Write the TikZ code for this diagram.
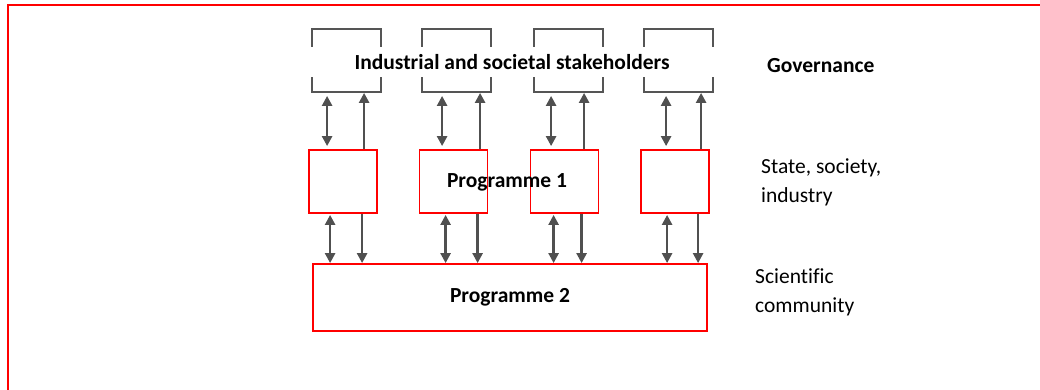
\documentclass[tikz,border=0pt]{standalone}
\usepackage{fontspec}
\setmainfont{Carlito}[Ligatures=NoCommon]
\usetikzlibrary{arrows.meta}

\definecolor{arrowgray}{HTML}{505050}
\definecolor{boxgray}{HTML}{555555}

\tikzset{
  stakebox/.style={draw=boxgray, line width=1.8pt, minimum width=69pt, minimum height=63pt, inner sep=0pt},
  progbox/.style={draw=red, line width=1.8pt, minimum width=68pt, minimum height=63pt, inner sep=0pt},
  flow/.style={draw=arrowgray, line width=2.4pt, -{Triangle[length=10pt,width=10pt]}},
  twoway/.style={draw=arrowgray, line width=2.4pt, {Triangle[length=10pt,width=10pt]}-{Triangle[length=10pt,width=10pt]}},
  boldtext/.style={font=\fontsize{21.5}{24}\selectfont\bfseries, inner sep=0pt},
  sidetext/.style={font=\fontsize{21.5}{29}\selectfont, align=left, anchor=west, inner sep=0pt}
}

\begin{document}
\begin{tikzpicture}[x=1pt, y=-1pt]
  \useasboundingbox (0,0) rectangle (1040,389);

  % outer frame
  \draw[red, line width=2pt] (8,390) -- (8,5) -- (1041,5);

  % stakeholders row
  \node[stakebox] (T1) at (346.5,60.5) {};
  \node[stakebox] (T2) at (456.5,60.5) {};
  \node[stakebox] (T3) at (568.5,60.5) {};
  \node[stakebox] (T4) at (678.5,60.5) {};
  \node[boldtext, fill=white, minimum width=415pt, minimum height=30pt] (stake) at (512,62) {Industrial and societal stakeholders};

  % programme 1 row
  \node[progbox] (M1) at (343,181.5) {};
  \node[progbox] (M2) at (453.5,181.5) {};
  \node[progbox] (M3) at (564.5,181.5) {};
  \node[progbox] (M4) at (675,181.5) {};
  \node[boldtext] (prog1) at (507,182) {Programme 1};

  % programme 2
  \node[draw=red, line width=1.8pt, minimum width=394pt, minimum height=67pt, boldtext] (B) at (510,297.5) {Programme 2};

  % arrows between stakeholders and programme 1
  \foreach \i/\a/\b in {1/16/53, 2/21/59, 3/18/51, 4/23/58} {
    \draw[twoway, shorten <=3pt, shorten >=3pt] ([xshift=\a pt]T\i.south west) -- ([xshift=\a pt]T\i.south west |- M\i.north);
    \draw[flow] ([xshift=\b pt]T\i.south west |- M\i.north) -- ([xshift=\b pt]T\i.south west);
  }

  % arrows between programme 1 and programme 2
  \foreach \i/\a/\b in {1/22/54, 2/27/59, 3/24/52, 4/27/58} {
    \draw[twoway, shorten <=1pt] ([xshift=\a pt]M\i.south west) -- ([xshift=\a pt]M\i.south west |- B.north);
    \draw[flow] ([xshift=\b pt]M\i.south west) -- ([xshift=\b pt]M\i.south west |- B.north);
  }

  % levels
  \node[boldtext, anchor=west] (gov) at (767,66) {Governance};
  \node[sidetext] (state) at (761,182) {State, society,\\industry};
  \node[sidetext] (sci) at (755,292) {Scientific\\community};
\end{tikzpicture}
\end{document}
